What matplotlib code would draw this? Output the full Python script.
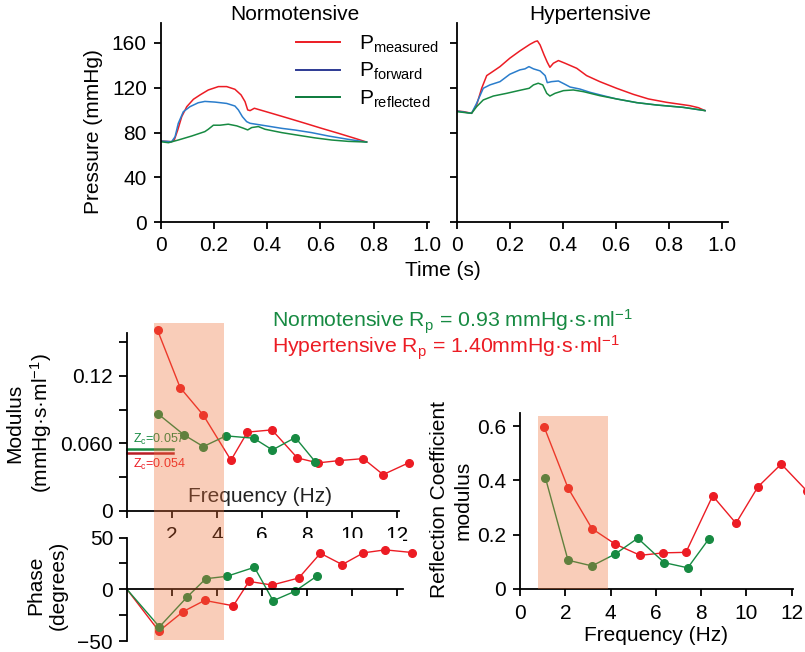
import matplotlib
matplotlib.use("Agg")
import matplotlib.pyplot as plt
import matplotlib.transforms as mtransforms
from matplotlib.patches import Rectangle
from matplotlib.lines import Line2D

plt.rcParams['font.family'] = ['Liberation Sans', 'DejaVu Sans']
plt.rcParams['mathtext.fontset'] = 'custom'
plt.rcParams['mathtext.rm'] = 'Liberation Sans'
plt.rcParams['mathtext.it'] = 'Liberation Sans:italic'
plt.rcParams['mathtext.bf'] = 'Liberation Sans:bold'

# ---- pressure waves ----
norm_t_meas = [0, 0.041, 0.051, 0.064, 0.079, 0.098, 0.123, 0.148, 0.179, 0.217, 0.248, 0.279,
               0.302, 0.317, 0.327, 0.336, 0.352, 0.417, 0.48, 0.543, 0.605, 0.668, 0.73, 0.774]
norm_meas = [72.4, 71.8, 73.3, 82.2, 94.1, 103, 109.6, 113.5, 117.9, 120.9, 120.9, 118.5,
             113.5, 107.5, 100.1, 99.5, 101.6, 97.1, 92.7, 88.2, 83.7, 79.3, 74.8, 71.5]
norm_t_fwd = [0, 0.041, 0.054, 0.066, 0.085, 0.11, 0.141, 0.166, 0.204, 0.248, 0.279, 0.292,
              0.307, 0.323, 0.336, 0.392, 0.455, 0.505, 0.567, 0.63, 0.705, 0.774]
norm_fwd = [72.4, 71.8, 76.2, 88.1, 98.5, 103, 106.5, 107.7, 107.1, 105.9, 103.6, 100.1,
            94.1, 89.7, 88.2, 86.1, 83.7, 82.2, 79.9, 76.9, 73.9, 71.5]
norm_t_refl = [0, 0.029, 0.066, 0.117, 0.166, 0.179, 0.198, 0.223, 0.254, 0.286, 0.311, 0.327,
               0.342, 0.367, 0.392, 0.455, 0.518, 0.58, 0.643, 0.705, 0.774]
norm_refl = [71.8, 70.9, 73.3, 76.9, 80.8, 82.9, 86.5, 86.5, 87.4, 85.9, 83.8, 82.3,
             84.4, 85.3, 82.9, 79.9, 77.5, 75.2, 73.3, 72.1, 71.5]

hyp_t_meas = [0, 0.025, 0.056, 0.075, 0.094, 0.113, 0.132, 0.163, 0.2, 0.238, 0.276, 0.295,
              0.304, 0.314, 0.329, 0.341, 0.351, 0.364, 0.383, 0.408, 0.452, 0.489, 0.539,
              0.602, 0.665, 0.722, 0.79, 0.878, 0.91, 0.935]
hyp_meas = [99.2, 98.6, 97.1, 104.5, 119.4, 130.7, 133.7, 138.7, 146.2, 152.7, 158.6, 161,
            161.6, 158, 149.1, 142.6, 138.1, 141.7, 144.1, 141.7, 137.2, 130.7, 125.3,
            119.4, 114, 109.9, 106.9, 103.9, 102.1, 99.5]
hyp_t_fwd = [0, 0.056, 0.075, 0.1, 0.125, 0.163, 0.2, 0.238, 0.257, 0.272, 0.289, 0.314,
             0.333, 0.341, 0.357, 0.383, 0.408, 0.427, 0.464, 0.502, 0.552, 0.602, 0.678,
             0.753, 0.853, 0.935]
hyp_fwd = [99.2, 97.1, 106, 119.4, 122.4, 125.3, 131.9, 135.8, 136.7, 138.7, 136.7, 134.9,
           130.7, 124.4, 125.3, 125.9, 122.9, 120.5, 118.7, 115.8, 112.8, 109.9, 106.6,
           104.5, 102.4, 99.5]
hyp_t_refl = [0, 0.056, 0.075, 0.1, 0.138, 0.188, 0.238, 0.273, 0.289, 0.307, 0.324, 0.339,
              0.351, 0.37, 0.402, 0.439, 0.477, 0.539, 0.602, 0.678, 0.753, 0.853, 0.935]
hyp_refl = [98.6, 97.1, 103, 109, 112.5, 114.9, 117.6, 119.4, 122.4, 123.9, 122.4, 114.9,
            112.5, 114.9, 117.3, 117.9, 116.4, 112.8, 109.9, 106.6, 104.5, 102.4, 99.5]

# ---- input impedance ----
hyp_f_mod = [1.36, 2.36, 3.39, 4.62, 5.35, 6.44, 7.57, 8.48, 9.41, 10.5, 11.38, 12.53]
hyp_mod = [0.1603, 0.1096, 0.0851, 0.0451, 0.070, 0.072, 0.0471, 0.0427, 0.0447, 0.0465, 0.0323, 0.0429]
norm_f_mod = [1.36, 2.53, 3.39, 4.4, 5.63, 6.46, 7.48, 8.36]
norm_mod = [0.0865, 0.0676, 0.0572, 0.0667, 0.0646, 0.0542, 0.0652, 0.0438]

hyp_f_ph = [0, 1.42, 2.50, 3.45, 4.72, 5.42, 6.44, 7.63, 8.59, 9.56, 10.5, 11.47, 12.68]
hyp_ph = [0, -40.2, -21.3, -10.6, -15.8, 7.7, 4.2, 11, 34.8, 23.9, 35.2, 38.1, 35.5]
norm_f_ph = [0, 1.44, 2.68, 3.5, 4.43, 5.66, 6.49, 7.45, 8.44]
norm_ph = [0, -36.1, -7.1, 10.3, 12.6, 21.3, -10.9, -1.9, 12.9]

zc_norm, zc_hyp = 0.055, 0.0518
zc_norm_lbl, zc_hyp_lbl = "0.057", "0.054"

# ---- reflection coefficient ----
hyp_f_rc = [1.06, 2.12, 3.18, 4.21, 5.31, 6.33, 7.33, 8.51, 9.54, 10.51, 11.54, 12.66]
hyp_rc = [0.598, 0.372, 0.222, 0.165, 0.124, 0.133, 0.135, 0.343, 0.242, 0.376, 0.460, 0.362]
norm_f_rc = [1.12, 2.12, 3.18, 4.21, 5.2, 6.37, 7.41, 8.33]
norm_rc = [0.41, 0.106, 0.085, 0.129, 0.187, 0.097, 0.078, 0.183]

RED = '#ec1c24'
BLUE = '#2a7dcc'
GREEN = '#178a42'
DKRED = '#b81e26'
SHADE = (238 / 255, 112 / 255, 55 / 255)
FS = 15

W, H = 805, 652
fig = plt.figure(figsize=(W / 100, H / 100), dpi=100)


def box(x0, y0, x1, y1):
    return [x0 / W, 1 - y1 / H, (x1 - x0) / W, (y1 - y0) / H]


def style(ax):
    for s in ['top', 'right']:
        ax.spines[s].set_visible(False)
    for s in ['left', 'bottom']:
        ax.spines[s].set_linewidth(1.3)
    ax.tick_params(direction='out', length=5, width=1.3, labelsize=FS, pad=5)


# pressure panels
ax_n = fig.add_axes(box(160.7, 22.5, 429.4, 222.3))
ax_h = fig.add_axes(box(456.7, 22.5, 727.6, 222.3))
for ax, xr in ((ax_n, 1.01), (ax_h, 1.02)):
    style(ax)
    ax.set_xlim(0, xr)
    ax.set_ylim(0, 178)
    ax.set_xticks([0, 0.2, 0.4, 0.6, 0.8, 1.0])
    ax.set_xticklabels(['0', '0.2', '0.4', '0.6', '0.8', '1.0'])
    ax.set_yticks([0, 40, 80, 120, 160])
ax_h.set_yticklabels([])

ax_n.plot(norm_t_meas, norm_meas, color=RED, lw=1.1)
ax_n.plot(norm_t_fwd, norm_fwd, color=BLUE, lw=1.1)
ax_n.plot(norm_t_refl, norm_refl, color=GREEN, lw=1.1)
ax_h.plot(hyp_t_meas, hyp_meas, color=RED, lw=1.1)
ax_h.plot(hyp_t_fwd, hyp_fwd, color=BLUE, lw=1.1)
ax_h.plot(hyp_t_refl, hyp_refl, color=GREEN, lw=1.1)

handles = [Line2D([], [], color=RED, lw=1.4), Line2D([], [], color='#2d3a94', lw=1.4),
           Line2D([], [], color='#0b7a3b', lw=1.4)]
ax_n.legend(handles, [r'P$_\mathrm{measured}$', r'P$_\mathrm{forward}$', r'P$_\mathrm{reflected}$'],
            loc='upper left', bbox_to_anchor=(0.505, 0.945), frameon=False, fontsize=15,
            handlelength=2.1, handletextpad=0.9, labelspacing=0.3, borderpad=0, borderaxespad=0)

fig.text(295 / W, 1 - 15 / H, 'Normotensive', ha='center', va='center', fontsize=FS)
fig.text(590 / W, 1 - 15 / H, 'Hypertensive', ha='center', va='center', fontsize=FS)
fig.text(443 / W, 1 - 270 / H, 'Time (s)', ha='center', va='center', fontsize=FS)
fig.text(93 / W, 1 - 132 / H, 'Pressure (mmHg)', ha='center', va='center', rotation=90, fontsize=FS)

# modulus
ax_m = fig.add_axes(box(127, 333, 399.3, 511))
style(ax_m)
ax_m.set_xlim(0, 12.1)
ax_m.set_ylim(0, 0.158)
ax_m.set_xticks(range(0, 13, 2))
ax_m.set_xticklabels(['', '2', '4', '6', '8', '10', '12'])
ax_m.tick_params(axis='x', pad=6)
ax_m.set_yticks([0, 0.03, 0.06, 0.09, 0.12, 0.15])
ax_m.set_yticklabels(['0', '', '0.060', '', '0.12', ''])
ax_m.tick_params(axis='y', length=6, pad=4)
ax_m.plot(hyp_f_mod, hyp_mod, color=RED, lw=1, marker='o', ms=5.5, clip_on=False)
ax_m.plot(norm_f_mod, norm_mod, color=GREEN, lw=1, marker='o', ms=5.5, clip_on=False)
ax_m.plot([0, 2.05], [zc_norm, zc_norm], color=GREEN, lw=1.8, clip_on=False)
ax_m.plot([0, 2.05], [zc_hyp, zc_hyp], color=DKRED, lw=1.8, clip_on=False)
ax_m.text(0.27, 0.0605, r'Z$_\mathrm{c}$=' + zc_norm_lbl, color=GREEN, fontsize=9, va='baseline')
ax_m.text(0.27, 0.0385, r'Z$_\mathrm{c}$=' + zc_hyp_lbl, color=RED, fontsize=9, va='baseline')
ax_m.text(0.49, 0.08, 'Frequency (Hz)', transform=ax_m.transAxes, ha='center', va='center',
          fontsize=FS, color='#222222')

# phase
ax_p = fig.add_axes(box(127, 537.5, 403, 641.3))
style(ax_p)
ax_p.set_xlim(0, 12.26)
ax_p.set_ylim(-50, 50)
ax_p.spines['bottom'].set_position(('data', 0))
ax_p.set_xticks(range(2, 13, 2))
ax_p.set_xticklabels([])
ax_p.set_yticks([-50, -25, 0, 25, 50])
ax_p.set_yticklabels(['\u221250', '', '0', '', '50'])
ax_p.tick_params(axis='y', length=6, pad=4)
ax_p.plot(hyp_f_ph, hyp_ph, color=RED, lw=1, marker='o', ms=5.5, markevery=slice(1, None), clip_on=False)
ax_p.plot(norm_f_ph, norm_ph, color=GREEN, lw=1, marker='o', ms=5.5, markevery=slice(1, None), clip_on=False)

fig.text(30 / W, 1 - 423 / H, 'Modulus\n(mmHg\u00b7s\u00b7ml$^{-1}$)', ha='center', va='center',
         rotation=90, fontsize=FS, linespacing=1.2)
fig.text(47 / W, 1 - 585 / H, 'Phase\n(degrees)', ha='center', va='center', rotation=90,
         fontsize=FS, linespacing=1.25)

# shading across modulus and phase panels
tr = mtransforms.blended_transform_factory(ax_m.transData, fig.transFigure)
fig.add_artist(Rectangle((1.21, 1 - 640 / H), 3.1, (640 - 323.3) / H, transform=tr,
                         facecolor=SHADE, alpha=0.35, edgecolor='none', zorder=10))

fig.text(272 / W, 1 - 327 / H, 'Normotensive R$_\\mathrm{p}$ = 0.93 mmHg\u00b7s\u00b7ml$^{-1}$',
         color=GREEN, fontsize=15.3, va='baseline')
fig.text(272 / W, 1 - 353 / H, 'Hypertensive R$_\\mathrm{p}$ = 1.40mmHg\u00b7s\u00b7ml$^{-1}$',
         color=RED, fontsize=15.3, va='baseline')

# reflection coefficient
ax_r = fig.add_axes(box(520, 412.7, 792.8, 589))
style(ax_r)
ax_r.set_xlim(0, 12.05)
ax_r.set_ylim(0, 0.649)
ax_r.set_xticks(range(0, 13, 2))
ax_r.set_yticks([0, 0.2, 0.4, 0.6])
ax_r.set_yticklabels(['0', '0.2', '0.4', '0.6'])
ax_r.tick_params(axis='x', pad=6)
ax_r.plot(hyp_f_rc, hyp_rc, color=RED, lw=1, marker='o', ms=5.5, clip_on=False)
ax_r.plot(norm_f_rc, norm_rc, color=GREEN, lw=1, marker='o', ms=5.5, clip_on=False)
ax_r.add_patch(Rectangle((0.81, 0), 3.09, 0.638, facecolor=SHADE, alpha=0.35,
                         edgecolor='none', zorder=10))
ax_r.set_xlabel('Frequency (Hz)', fontsize=FS, labelpad=2)
fig.text(451 / W, 1 - 500 / H, 'Reflection Coefficient\nmodulus', ha='center', va='center',
         rotation=90, fontsize=FS, linespacing=1.3)

fig.savefig('out.png', dpi=100)
